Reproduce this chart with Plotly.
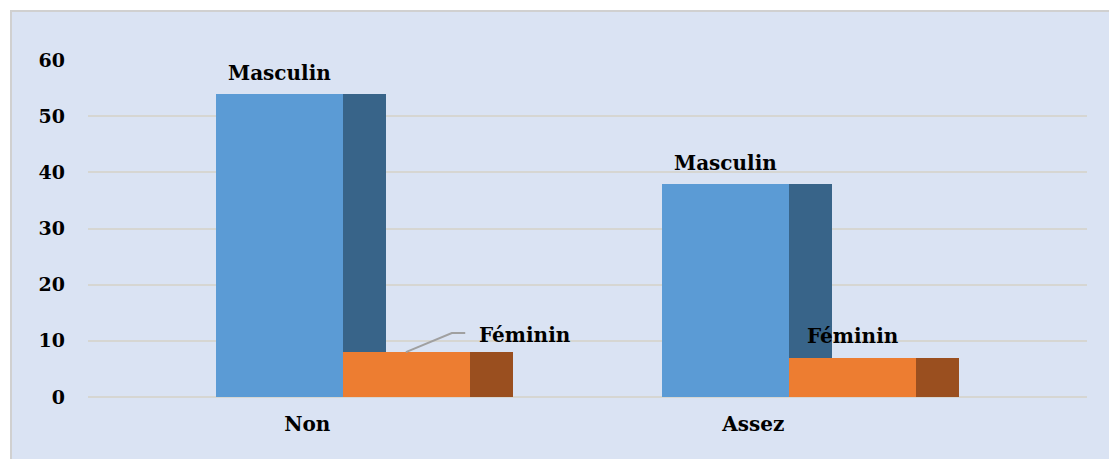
import plotly.graph_objects as go

# data
categories = ["Non", "Assez"]
masculin = [54, 38]
feminin = [8, 7]
y_ticks = [0, 10, 20, 30, 40, 50, 60]

# colours (front face / side face of the pseudo-3D bars)
MASC_FRONT, MASC_SIDE = "#5b9bd5", "#386489"
FEM_FRONT, FEM_SIDE = "#ed7d31", "#9a4f1f"
BG = "#dae3f3"
GRID = "#d6d6d2"
FONT = dict(family="DejaVu Serif", size=20, color="black", weight="bold")
TICK_FONT = dict(family="DejaVu Serif", size=19, color="black", weight="bold")

# geometry in category units
FRONT_W = 0.285
SIDE_W = 0.096
idx = list(range(len(categories)))


def shifted(off):
    return [i + off for i in idx]


fig = go.Figure()

# Masculin: front + side
fig.add_trace(go.Bar(x=shifted(-FRONT_W / 2), y=masculin, width=FRONT_W,
                     marker=dict(color=MASC_FRONT, line_width=0), name="Masculin"))
fig.add_trace(go.Bar(x=shifted(SIDE_W / 2), y=masculin, width=SIDE_W,
                     marker=dict(color=MASC_SIDE, line_width=0), showlegend=False))
# Féminin: side + front
fig.add_trace(go.Bar(x=shifted(FRONT_W + SIDE_W / 2), y=feminin, width=SIDE_W,
                     marker=dict(color=FEM_SIDE, line_width=0), showlegend=False))
fig.add_trace(go.Bar(x=shifted(FRONT_W / 2), y=feminin, width=FRONT_W,
                     marker=dict(color=FEM_FRONT, line_width=0), name="Féminin"))

# data labels
for i, v in zip(idx, masculin):
    fig.add_annotation(x=i - FRONT_W / 2, y=v, yshift=21, text="Masculin",
                       showarrow=False, font=FONT)

# first Féminin label moved aside with a leader line
fig.add_annotation(x=idx[0] + 0.408, y=feminin[0], yshift=17, text="Féminin",
                   showarrow=False, font=FONT)
fig.add_shape(type="path", xref="x", yref="y",
              path=f"M {idx[0] + 0.141},{feminin[0]} L {idx[0] + 0.244},{feminin[0] + 3.4} "
                   f"L {idx[0] + 0.274},{feminin[0] + 3.4}",
              line=dict(color="#a0a0a0", width=2))
fig.add_annotation(x=idx[1] + FRONT_W / 2, y=feminin[1], yshift=22, text="Féminin",
                   showarrow=False, font=FONT)

# chart area background with thin border (right/bottom edges run off the page)
fig.add_shape(type="rect", xref="paper", yref="paper", layer="below",
              x0=(11 - 88) / 999, x1=(1140 - 88) / 999,
              y0=-80 / 337, y1=(397 - 11) / 337,
              fillcolor=BG, line=dict(color="#d0d0d0", width=2))

# page body has an 8px margin, so the figure is drawn 8px smaller
fig.update_layout(
    width=1109, height=451,
    margin=dict(l=80, r=30, t=52, b=62),
    paper_bgcolor="white",
    plot_bgcolor=BG,
    barmode="overlay",
    bargap=0,
    showlegend=False,
    xaxis=dict(range=[-0.5717, 1.668], tickvals=[i - 0.08 for i in idx],
               ticktext=categories, showgrid=False, zeroline=False,
               showline=False, ticks="", tickfont=FONT, ticklabelstandoff=13),
    yaxis=dict(range=[0, 60], tickvals=y_ticks, showgrid=True, gridcolor=GRID,
               gridwidth=1.5, zeroline=True, zerolinecolor=GRID, zerolinewidth=1.5,
               showline=False, ticks="", tickfont=TICK_FONT, ticklabelstandoff=22),
)

fig.write_html("out.html")
